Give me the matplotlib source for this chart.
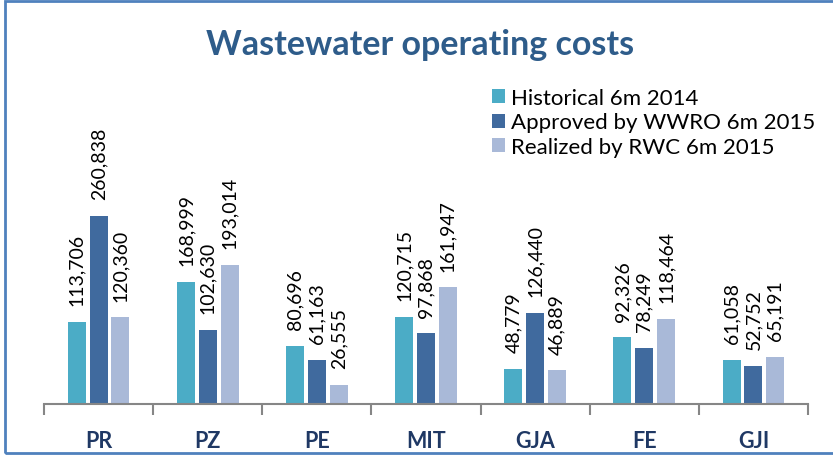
import numpy as np
import matplotlib
matplotlib.use("Agg")
import matplotlib.pyplot as plt
from matplotlib.patches import Rectangle

plt.rcParams["font.family"] = ["Lato", "DejaVu Sans"]

# data
categories = ["PR", "PZ", "PE", "MIT", "GJA", "FE", "GJI"]
series_names = ["Historical 6m 2014", "Approved by WWRO 6m 2015", "Realized by RWC 6m 2015"]
historical = [113706, 168999, 80696, 120715, 48779, 92326, 61058]
approved = [260838, 102630, 61163, 97868, 126440, 78249, 52752]
realized = [120360, 193014, 26555, 161947, 46889, 118464, 65191]
colors = ["#4BACC6", "#406A9E", "#A9B9D8"]

fig = plt.figure(figsize=(8.33, 4.56), dpi=100)
ax = fig.add_axes([44 / 833, 51 / 456, 764 / 833, 324.5 / 456])

x = np.arange(len(categories))
width = 0.165
step = 0.2
for i, (vals, name) in enumerate(zip([historical, approved, realized], series_names)):
    pos = x + (i - 1) * step
    ax.bar(pos, vals, width, color=colors[i], label=name)
    for p, v in zip(pos, vals):
        ax.annotate(f"{v:,}", (p, v), xytext=(0, 12), textcoords="offset points",
                    rotation=90, ha="center", va="bottom", fontsize=14)

ax.set_xlim(-0.5, len(categories) - 0.5)
ax.set_ylim(0, 450000)
for s in ["top", "right", "left"]:
    ax.spines[s].set_visible(False)
ax.spines["bottom"].set_color("#868686")
ax.spines["bottom"].set_linewidth(1.5)
ax.set_yticks([])
ax.set_xticks(x)
ax.set_xticklabels(categories, fontsize=15.5, fontweight="bold", color="#1F3864")
ax.tick_params(axis="x", which="major", length=0, pad=19)
ax.set_xticks(np.arange(len(categories) + 1) - 0.5, minor=True)
ax.tick_params(axis="x", which="minor", length=8, width=1.5, color="#868686")

fig.text(420 / 833, 1 - 45 / 456, "Wastewater operating costs", ha="center", va="center",
         fontsize=24.5, fontweight="bold", color="#2E5C8A")

ax.legend(loc="upper left", bbox_to_anchor=(492 / 833, 1 - 89 / 456), bbox_transform=fig.transFigure,
          frameon=False, fontsize=16, handlelength=0.6, handleheight=0.6, handletextpad=0.25,
          labelspacing=0.2, borderaxespad=0, borderpad=0)

fig.patches.append(Rectangle((4.5 / 833, 2 / 456), 1.2, 1 - 3.5 / 456, transform=fig.transFigure,
                             fill=False, edgecolor="#4F81BD", linewidth=2))

fig.savefig("out.png", dpi=100)
